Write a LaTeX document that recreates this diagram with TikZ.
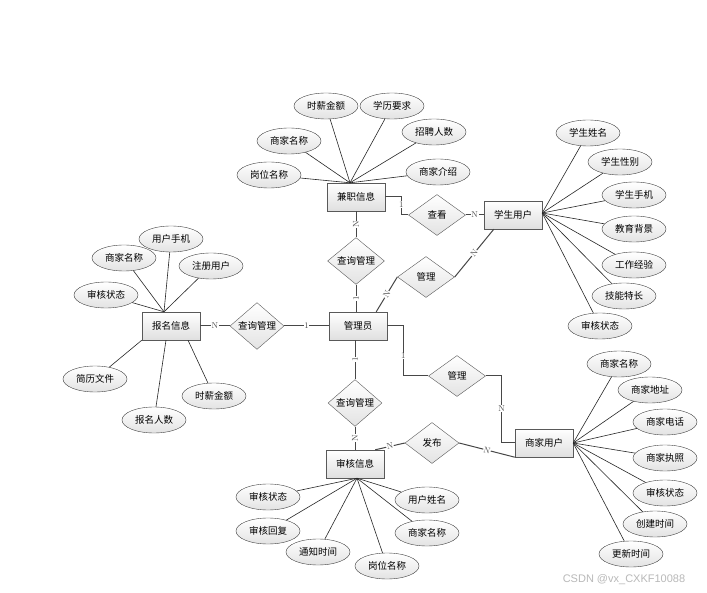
\documentclass[tikz,border=0pt]{standalone}
\usepackage{fontspec}
\newfontfamily\cjk{Noto Sans CJK SC}
\newfontfamily\wm{Liberation Sans}
\usetikzlibrary{shapes.geometric,shadows,calc}
\begin{document}
\begin{tikzpicture}[x=1pt,y=-1pt,
  ent/.style={draw=black!65, rectangle, minimum width=58pt, minimum height=28pt, inner sep=0pt,
    top color=white, bottom color=gray!25, font=\cjk\fontsize{9.5}{10}\selectfont,
    drop shadow={opacity=0.25,shadow xshift=1pt,shadow yshift=-1pt}},
  attr/.style={draw=black!75, ellipse, minimum width=64pt, minimum height=26pt, inner sep=0pt,
    top color=white, bottom color=gray!22, font=\cjk\fontsize{9.5}{10}\selectfont},
  rel/.style={draw=black!65, diamond, minimum width=57pt, minimum height=41pt, inner sep=0pt,
    top color=white, bottom color=gray!22, font=\cjk\fontsize{9.5}{10}\selectfont},
  conn/.style={draw=black!72, line width=1pt},
  aline/.style={draw=black!85, line width=0.6pt},
  card/.style={font=\fontsize{8.5}{8.5}\selectfont, fill=white, inner sep=0.5pt, text=black!70}
]
\useasboundingbox (0,0) rectangle (707,593);
\fill[white] (0,0) rectangle (707,593);

% entities
\node[ent] (jz) at (356,197) {兼职信息};
\node[ent] (xs) at (513,215) {学生用户};
\node[ent] (gl) at (358,326) {管理员};
\node[ent] (bm) at (171,326) {报名信息};
\node[ent] (sh) at (355,464) {审核信息};
\node[ent] (sj) at (544,443) {商家用户};

% relationships
\node[rel] (ck) at (437,215) {查看};
\node[rel] (cx1) at (356,261) {查询管理};
\node[rel] (gla) at (426,277) {管理};
\node[rel,minimum width=54pt] (cx2) at (257,326) {查询管理};
\node[rel] (glb) at (457,376) {管理};
\node[rel,minimum width=54pt] (cx3) at (355,403) {查询管理};
\node[rel,minimum width=54pt] (fb) at (432,443) {发布};

% attributes of 兼职信息
\node[attr] (j1) at (326,106) {时薪金额};
\node[attr] (j2) at (392,106) {学历要求};
\node[attr] (j3) at (434,132) {招聘人数};
\node[attr] (j4) at (289,141) {商家名称};
\node[attr] (j5) at (269,175) {岗位名称};
\node[attr] (j6) at (438,172) {商家介绍};

% attributes of 学生用户
\node[attr] (x1) at (588,133) {学生姓名};
\node[attr] (x2) at (620,162) {学生性别};
\node[attr] (x3) at (634,195) {学生手机};
\node[attr] (x4) at (634,229) {教育背景};
\node[attr] (x5) at (634,265) {工作经验};
\node[attr] (x6) at (624,296) {技能特长};
\node[attr] (x7) at (600,326) {审核状态};

% attributes of 报名信息
\node[attr] (b1) at (171,239) {用户手机};
\node[attr] (b2) at (124,258) {商家名称};
\node[attr] (b3) at (211,266) {注册用户};
\node[attr] (b4) at (106,295) {审核状态};
\node[attr] (b5) at (95,379) {简历文件};
\node[attr] (b6) at (154,420) {报名人数};
\node[attr] (b7) at (214,396) {时薪金额};

% attributes of 审核信息
\node[attr] (s1) at (268,497) {审核状态};
\node[attr] (s2) at (268,531) {审核回复};
\node[attr] (s3) at (318,552) {通知时间};
\node[attr] (s4) at (387,566) {岗位名称};
\node[attr] (s5) at (427,500) {用户姓名};
\node[attr] (s6) at (427,533) {商家名称};

% attributes of 商家用户
\node[attr] (m1) at (619,364) {商家名称};
\node[attr] (m2) at (650,390) {商家地址};
\node[attr] (m3) at (665,422) {商家电话};
\node[attr] (m4) at (665,458) {商家执照};
\node[attr] (m5) at (665,493) {审核状态};
\node[attr] (m6) at (655,524) {创建时间};
\node[attr] (m7) at (631,554) {更新时间};

% attribute lines
\coordinate (jzT) at ($(jz.north)+(-6,0)$);
\foreach \a in {j1,j2,j3,j4,j5,j6} \draw[aline] (jzT) -- (\a);
\coordinate (xsR) at ($(xs.east)+(0,-2)$);
\foreach \a in {x1,x2,x3,x4,x5,x6,x7} \draw[aline] (xsR) -- (\a);
\coordinate (bmT) at ($(bm.north)+(-7,0)$);
\foreach \a in {b1,b2,b3,b4} \draw[aline] (bmT) -- (\a);
\draw[aline] (bm.south west) -- (b5);
\draw[aline] ($(bm.south)+(-5,0)$) -- (b6);
\draw[aline] ($(bm.south)+(17,0)$) -- (b7);
\coordinate (shB) at ($(sh.south)+(2,0)$);
\foreach \a in {s1,s2,s3,s4,s5,s6} \draw[aline] (shB) -- (\a);
\coordinate (sjR) at (sj.east);
\foreach \a in {m1,m2,m3,m4,m5,m6,m7} \draw[aline] (sjR) -- (\a);

% connectors
\draw[conn] (jz.east) -- ++(16,0) |- node[pos=0.2,card]{1} (ck.west);
\draw[conn] (ck.east) -- node[card]{N} (xs.west);
\draw[conn] (jz.south) -- node[card,rotate=90]{N} (cx1.north);
\draw[conn] (cx1.south) -- node[card,rotate=90]{1} (cx1.south |- gl.north);
\draw[conn] ($(gl.north east)+(-11,0)$) -- node[card,sloped]{N} (gla.west);
\draw[conn] (gla.east) -- node[card,sloped]{N} ($(xs.south west)+(10,0)$);
\draw[conn] (bm.east) -- node[card]{N} (cx2.west);
\draw[conn] (cx2.east) -- node[card]{1} (gl.west);
\draw[conn] (gl.east) -- ++(16,0) |- node[pos=0.3,card]{1} (glb.west);
\draw[conn] (glb.east) -- ++(16,0) |- node[pos=0.24,card]{N} (sj.west);
\draw[conn] (cx3.north |- gl.south) -- node[card,rotate=90]{1} (cx3.north);
\draw[conn] (cx3.south) -- node[card,rotate=90]{N} (sh.north);
\draw[conn] ($(sh.north east)+(-9,0)$) -- node[card,sloped]{N} (fb.west);
\draw[conn] (fb.east) -- node[card,sloped]{N} (sj.south west);

% watermark
\node[font=\wm\fontsize{11}{12}\selectfont, text=gray!55, inner sep=0pt] (wmk) at (624,580) {CSDN @vx\_CXKF10088};
\end{tikzpicture}
\end{document}
